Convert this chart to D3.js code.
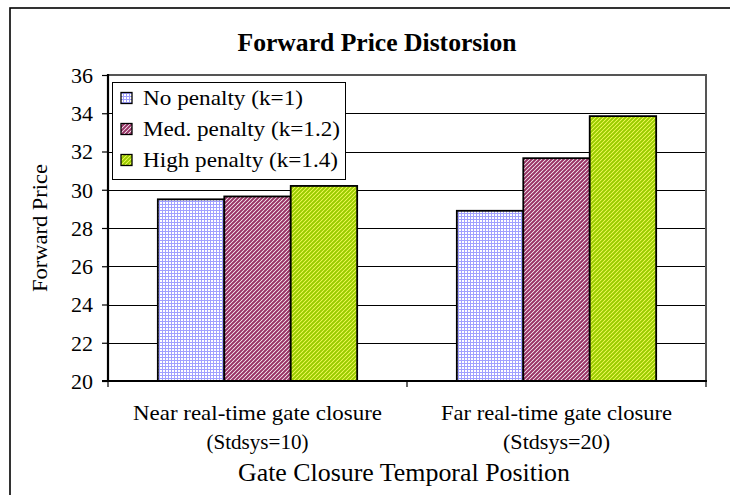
<!DOCTYPE html>
<html>
<head>
<meta charset="utf-8">
<script src="https://cdn.jsdelivr.net/npm/d3@7"></script>
<style>
  html, body { margin: 0; padding: 0; background: #fff; }
  svg { display: block; }
  text { font-family: "Liberation Serif", "Times New Roman", serif; fill: #000; }
</style>
</head>
<body>
<svg id="chart" width="730" height="495"></svg>
<script>
// ---- data ----
const categories = ["Near real-time gate closure|(Stdsys=10)", "Far real-time gate closure|(Stdsys=20)"];
const seriesNames = ["No penalty (k=1)", "Med. penalty (k=1.2)", "High penalty (k=1.4)"];
const noPenalty = [29.5, 28.9];
const medPenalty = [29.65, 31.65];
const highPenalty = [30.2, 33.85];
const yTicks = [20, 22, 24, 26, 28, 30, 32, 34, 36];
const titleText = "Forward Price Distorsion";
const xTitle = "Gate Closure Temporal Position";
const yTitle = "Forward Price";

const seriesValues = [noPenalty, medPenalty, highPenalty];
const FONT = "Liberation Serif, Times New Roman, serif";

const svg = d3.select("#chart");
const defs = svg.append("defs");

// patterns
function pat(id, size, bg, draw) {
  const p = defs.append("pattern").attr("id", id).attr("patternUnits", "userSpaceOnUse")
    .attr("width", size).attr("height", size);
  p.append("rect").attr("width", size).attr("height", size).attr("fill", bg);
  draw(p);
}
pat("p0", 3, "#ffffff", p => {
  p.append("rect").attr("x", 0).attr("y", 0).attr("width", 3).attr("height", 1).attr("fill", "#a0a0ff");
  p.append("rect").attr("x", 0).attr("y", 0).attr("width", 1).attr("height", 3).attr("fill", "#a0a0ff");
});
pat("p1", 4, "#ffffff", p => {
  p.append("path").attr("d", "M-1,5 L5,-1 M-1,1 L1,-1 M3,5 L5,3").attr("stroke", "#993366").attr("stroke-width", 2);
});
pat("p2", 4, "#ffff66", p => {
  p.append("path").attr("d", "M-1,5 L5,-1 M-1,1 L1,-1 M3,5 L5,3").attr("stroke", "#99cc00").attr("stroke-width", 2);
});
const fills = ["url(#p0)", "url(#p1)", "url(#p2)"];

// outer frame
svg.append("rect").attr("x", 10).attr("y", 8).attr("width", 734).attr("height", 520)
  .attr("fill", "none").attr("stroke", "#000").attr("stroke-width", 1.6);

// geometry
const pL = 108, pR = 706, pT = 75, pB = 381;
const y = d3.scaleLinear().domain([20, 36]).range([pB, pT]);
const x0 = d3.scaleBand().domain(categories).range([pL, pR]).paddingInner(0).paddingOuter(0);
const x1 = d3.scaleBand().domain(d3.range(seriesNames.length)).range([0, x0.bandwidth()])
  .paddingInner(0).paddingOuter(0.75);

// gridlines
svg.append("g").selectAll("line").data(yTicks.slice(1)).join("line")
  .attr("x1", pL).attr("x2", pR)
  .attr("y1", d => Math.round(y(d)) + 0.5).attr("y2", d => Math.round(y(d)) + 0.5)
  .attr("stroke", d => d === 36 ? "#666" : "#000").attr("stroke-width", 1);

// plot area border (top/right gray)
svg.append("path")
  .attr("d", `M${pL},${pT} H${pR} V${pB}`)
  .attr("fill", "none").attr("stroke", "#555").attr("stroke-width", 2);

// bars
const groups = svg.append("g").selectAll("g").data(categories).join("g")
  .attr("transform", d => `translate(${x0(d)},0)`);
groups.selectAll("rect").data((d, i) => seriesValues.map((s, j) => ({ j, v: s[i] }))).join("rect")
  .attr("x", d => x1(d.j)).attr("width", x1.bandwidth())
  .attr("y", d => y(d.v)).attr("height", d => y(20) - y(d.v))
  .attr("fill", d => fills[d.j]).attr("stroke", "#000").attr("stroke-width", 1.8);

// y axis
const yAxis = d3.axisLeft(y).tickValues(yTicks).tickSize(6).tickPadding(9).tickFormat(d3.format("d"));
const ya = svg.append("g").attr("transform", `translate(${pL},0)`).call(yAxis)
  .attr("font-family", FONT);
ya.select(".domain").remove();
ya.selectAll(".tick line").attr("stroke", "#000").attr("stroke-width", 1.2);
ya.selectAll(".tick text").attr("font-size", 22).attr("dy", "0.34em");
svg.append("line").attr("x1", pL).attr("x2", pL).attr("y1", pT - 1).attr("y2", pB + 1)
  .attr("stroke", "#000").attr("stroke-width", 2.2);

// x axis
svg.append("line").attr("x1", pL - 6).attr("x2", pR + 1).attr("y1", pB).attr("y2", pB)
  .attr("stroke", "#000").attr("stroke-width", 2.2);
const xTickPos = [pL, ...categories.slice(1).map(c => x0(c)), pR];
svg.append("g").selectAll("line").data(xTickPos).join("line")
  .attr("x1", d => d).attr("x2", d => d).attr("y1", pB).attr("y2", pB + 6)
  .attr("stroke", "#000").attr("stroke-width", 1.2);

const catLens = [[249, 102], [231, 107]];
categories.forEach((c, i) => {
  const parts = c.split("|");
  const cx = x0(c) + x0.bandwidth() / 2;
  parts.forEach((t, k) => {
    svg.append("text").attr("x", cx).attr("y", k === 0 ? 420 : 449)
      .attr("text-anchor", "middle").attr("font-size", 21).attr("font-family", FONT)
      .attr("textLength", catLens[i][k]).attr("lengthAdjust", "spacingAndGlyphs")
      .text(t);
  });
});

// titles
svg.append("text").attr("x", 377).attr("y", 51).attr("text-anchor", "middle")
  .attr("font-size", 26).attr("font-weight", "bold").attr("font-family", FONT)
  .attr("textLength", 279).attr("lengthAdjust", "spacingAndGlyphs").text(titleText);
svg.append("text").attr("x", 404).attr("y", 481).attr("text-anchor", "middle")
  .attr("font-size", 25).attr("font-family", FONT)
  .attr("textLength", 332).attr("lengthAdjust", "spacingAndGlyphs").text(xTitle);
svg.append("text").attr("transform", `translate(47,${(pT + pB) / 2}) rotate(-90)`)
  .attr("text-anchor", "middle").attr("font-size", 21).attr("font-family", FONT)
  .attr("textLength", 128).attr("lengthAdjust", "spacingAndGlyphs").text(yTitle);

// legend
const lg = svg.append("g");
lg.append("rect").attr("x", 112.5).attr("y", 82.5).attr("width", 233).attr("height", 97)
  .attr("fill", "#fff").attr("stroke", "#000").attr("stroke-width", 1);
const legLens = [160, 197, 195];
const rowY = [98, 129, 160];
seriesNames.forEach((s, i) => {
  lg.append("rect").attr("x", 121).attr("y", rowY[i] - 5.5).attr("width", 11).attr("height", 11)
    .attr("fill", fills[i]).attr("stroke", "#000").attr("stroke-width", 1.3);
  lg.append("text").attr("x", 143).attr("y", rowY[i] + 7).attr("font-size", 22).attr("font-family", FONT)
    .attr("textLength", legLens[i]).attr("lengthAdjust", "spacingAndGlyphs").text(s);
});
</script>
</body>
</html>
